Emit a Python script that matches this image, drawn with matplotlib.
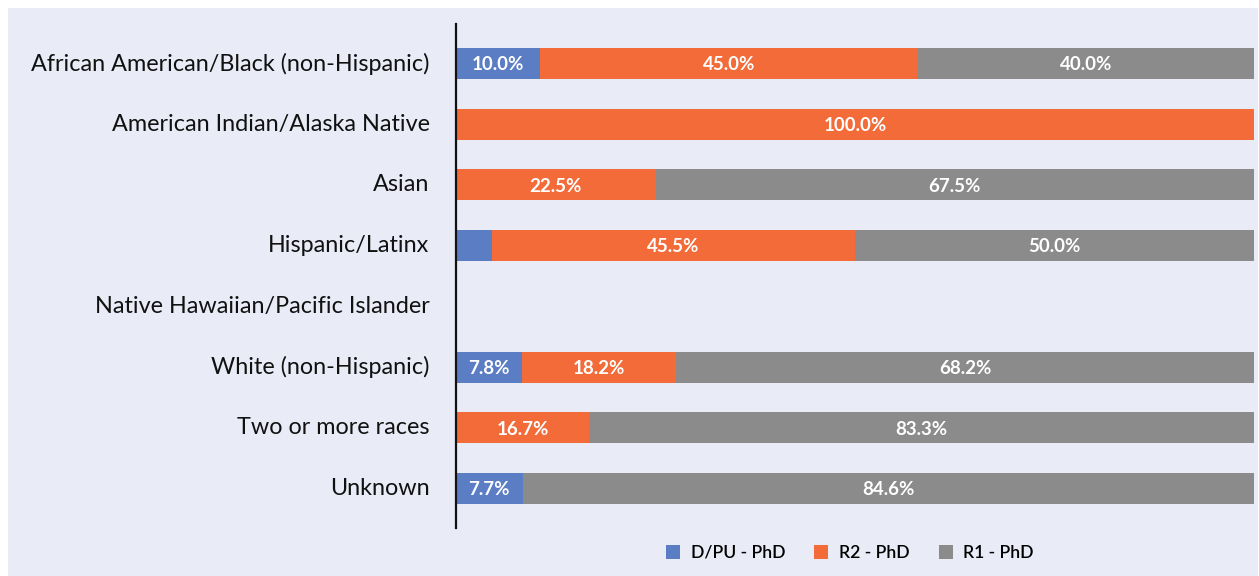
import numpy as np
import matplotlib.pyplot as plt
from matplotlib.patches import Rectangle

# data
groups = ["African American/Black (non-Hispanic)",
          "American Indian/Alaska Native",
          "Asian",
          "Hispanic/Latinx",
          "Native Hawaiian/Pacific Islander",
          "White (non-Hispanic)",
          "Two or more races",
          "Unknown"]
dpu_phd = [10.0, 0.0, 0.0, 4.5, 0.0, 7.8, 0.0, 7.7]
r2_phd = [45.0, 100.0, 22.5, 45.5, 0.0, 18.2, 16.7, 0.0]
r1_phd = [40.0, 0.0, 67.5, 50.0, 0.0, 68.2, 83.3, 84.6]
series_names = ["D/PU - PhD", "R2 - PhD", "R1 - PhD"]
colors = ["#5A7DC4", "#F26B38", "#8B8B8B"]

bg = "#E9EBF6"
plt.rcParams['font.family'] = ['Lato', 'DejaVu Sans']

fig = plt.figure(figsize=(12.59, 5.76), dpi=100, facecolor="white")
fig.patches.append(Rectangle((8 / 1259, 0), 1250 / 1259, 568 / 576,
                             transform=fig.transFigure, facecolor=bg,
                             edgecolor="none", zorder=-10))
ax = fig.add_axes([456 / 1259, 48 / 576, 798 / 1259, 504 / 576])
ax.set_facecolor("none")

vals = np.array([dpu_phd, r2_phd, r1_phd])
totals = vals.sum(axis=0)
totals[totals == 0] = 1
frac = vals / totals  # 100% stacked, like the original

y = np.arange(len(groups))
left = np.zeros(len(groups))
for k in range(3):
    ax.barh(y, frac[k], left=left, height=0.51, color=colors[k],
            label=series_names[k])
    for i in range(len(groups)):
        if vals[k, i] >= 5:
            ax.text(left[i] + frac[k, i] / 2, y[i] + 0.02, f"{vals[k, i]:.1f}%",
                    ha="center", va="center", color="white",
                    fontsize=13.5, fontweight="bold")
    left += frac[k]

ax.set_xlim(0, 1)
ax.set_ylim(len(groups) - 0.35, -0.65)
ax.set_yticks(y)
ax.set_yticklabels(groups, fontsize=16.8, color="#111111", va="center")
ax.tick_params(axis="y", length=0, pad=19)
ax.set_xticks([])
for s in ["top", "right", "bottom"]:
    ax.spines[s].set_visible(False)
ax.spines["left"].set_linewidth(1.6)
ax.spines["left"].set_color("#111111")

leg = fig.legend(loc="center", bbox_to_anchor=(850 / 1259, 1 - 553 / 576),
                 ncol=3, frameon=False, handlelength=0.8,
                 handleheight=0.8, columnspacing=1.65, handletextpad=0.6,
                 prop={"size": 12.7, "weight": "semibold"})

fig.savefig("out.png", dpi=100, facecolor="white")
